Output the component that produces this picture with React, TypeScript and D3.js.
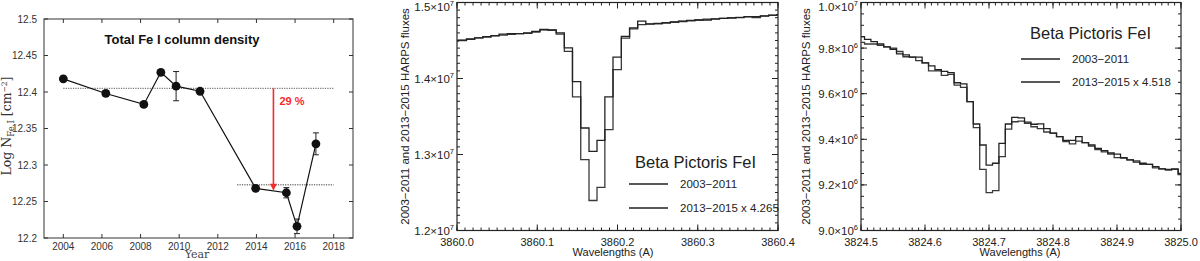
import * as d3 from "d3";

// ---- panel 1: total Fe I column density ----
const YEARS = [2004.0, 2006.2, 2008.17, 2009.05, 2009.84, 2011.08, 2013.96, 2015.55, 2016.1, 2017.08];
const LOG_N = [12.418, 12.398, 12.383, 12.427, 12.408, 12.401, 12.268, 12.262, 12.216, 12.329];
const LOG_N_ERR = [0, 0.004, 0.002, 0, 0.02, 0.003, 0.003, 0.007, 0.01, 0.015];
const YEAR_TICKS = [2004, 2006, 2008, 2010, 2012, 2014, 2016, 2018];
const LOGN_TICKS = [12.2, 12.25, 12.3, 12.35, 12.4, 12.45, 12.5];
const MEAN_LEVELS = [
  { value: 12.405, from: 2004, to: 2018 },
  { value: 12.273, from: 2013, to: 2018 },
];
const DROP_YEAR = 2014.88;
const DROP_LABEL = "29 %";

// ---- panel 2: 3860 A line ----
const WAVE_3860 = [
  3859.9965, 3860.0067, 3860.0169, 3860.0271, 3860.0373, 3860.0474, 3860.0576, 3860.0678,
  3860.0779, 3860.0881, 3860.0983, 3860.1083, 3860.1185, 3860.1287, 3860.1388, 3860.149,
  3860.1594, 3860.1696, 3860.1793, 3860.1892, 3860.1996, 3860.21, 3860.2201, 3860.2302,
  3860.2404, 3860.2506, 3860.2608, 3860.271, 3860.2812, 3860.2914, 3860.3016, 3860.3118,
  3860.322, 3860.3322, 3860.3424, 3860.3526, 3860.3628, 3860.373, 3860.3832, 3860.3934,
  3860.4036,
];
const FLUX_3860_EARLY = [
  1.4495e7, 1.4505e7, 1.452e7, 1.4535e7, 1.455e7, 1.4565e7, 1.4585e7, 1.459e7,
  1.459e7, 1.46e7, 1.462e7, 1.4645e7, 1.464e7, 1.46e7, 1.4403e7, 1.3959e7,
  1.3349e7, 1.3041e7, 1.3186e7, 1.3758e7, 1.428e7, 1.4555e7, 1.4667e7, 1.4754e7,
  1.472e7, 1.4725e7, 1.4735e7, 1.4745e7, 1.4755e7, 1.4765e7, 1.477e7, 1.477e7,
  1.4785e7, 1.479e7, 1.4795e7, 1.48e7, 1.4815e7, 1.4815e7, 1.4825e7, 1.4835e7,
  1.484e7,
];
const FLUX_3860_LATE = [
  1.4495e7, 1.45e7, 1.4515e7, 1.4535e7, 1.4545e7, 1.456e7, 1.457e7, 1.458e7,
  1.459e7, 1.4595e7, 1.461e7, 1.464e7, 1.4635e7, 1.4585e7, 1.4358e7, 1.3758e7,
  1.2932e7, 1.2395e7, 1.2567e7, 1.3327e7, 1.4117e7, 1.453e7, 1.4653e7, 1.471e7,
  1.4715e7, 1.472e7, 1.473e7, 1.474e7, 1.475e7, 1.476e7, 1.477e7, 1.478e7,
  1.478e7, 1.479e7, 1.48e7, 1.4805e7, 1.481e7, 1.48e7, 1.482e7, 1.483e7,
  1.484e7,
];

// ---- panel 3: 3824.7 A line ----
const WAVE_3824 = [
  3824.5005, 3824.5105, 3824.5205, 3824.5305, 3824.5405, 3824.5505, 3824.5605, 3824.5705,
  3824.5805, 3824.5905, 3824.6005, 3824.6105, 3824.6205, 3824.6305, 3824.6405, 3824.6505,
  3824.6605, 3824.6705, 3824.6805, 3824.6905, 3824.7005, 3824.7105, 3824.7205, 3824.7305,
  3824.7405, 3824.7505, 3824.7605, 3824.7705, 3824.7805, 3824.7905, 3824.8005, 3824.8105,
  3824.8205, 3824.8305, 3824.8405, 3824.8505, 3824.8605, 3824.8705, 3824.8805, 3824.8905,
  3824.9005, 3824.9105, 3824.9205, 3824.9305, 3824.9405, 3824.9505, 3824.9605, 3824.9705,
  3824.9805, 3824.9905, 3825.0005,
];
const FLUX_3824_EARLY = [
  9.85e6, 9.838e6, 9.828e6, 9.818e6, 9.805e6, 9.795e6, 9.775e6, 9.77e6,
  9.76e6, 9.76e6, 9.735e6, 9.722e6, 9.705e6, 9.698e6, 9.692e6, 9.648e6,
  9.643e6, 9.565e6, 9.467e6, 9.375e6, 9.287e6, 9.295e6, 9.382e6, 9.467e6,
  9.496e6, 9.494e6, 9.475e6, 9.466e6, 9.468e6, 9.447e6, 9.427e6, 9.412e6,
  9.395e6, 9.395e6, 9.412e6, 9.385e6, 9.375e6, 9.36e6, 9.35e6, 9.34e6,
  9.335e6, 9.32e6, 9.31e6, 9.3e6, 9.295e6, 9.29e6, 9.28e6, 9.27e6,
  9.268e6, 9.27e6, 9.25e6,
];
const FLUX_3824_LATE = [
  9.825e6, 9.818e6, 9.818e6, 9.812e6, 9.805e6, 9.8e6, 9.785e6, 9.762e6,
  9.76e6, 9.745e6, 9.735e6, 9.7e6, 9.7e6, 9.68e6, 9.685e6, 9.638e6,
  9.628e6, 9.565e6, 9.451e6, 9.268e6, 9.166e6, 9.175e6, 9.324e6, 9.445e6,
  9.477e6, 9.48e6, 9.47e6, 9.455e6, 9.447e6, 9.432e6, 9.427e6, 9.412e6,
  9.39e6, 9.38e6, 9.392e6, 9.385e6, 9.37e6, 9.355e6, 9.345e6, 9.335e6,
  9.32e6, 9.318e6, 9.31e6, 9.305e6, 9.29e6, 9.29e6, 9.275e6, 9.27e6,
  9.265e6, 9.268e6, 9.245e6,
];

const SPEC_Y_TITLE = "2003\u22122011 and 2013\u22122015 HARPS fluxes";
const SPEC_X_TITLE = "Wavelengths (A)";
const LEGEND_TITLE = "Beta Pictoris FeI";

const SANS = "'Liberation Sans', Arial, Helvetica, sans-serif";
const SERIF = "'DejaVu Serif', 'Liberation Serif', serif";
const RED = "#f52a2a";

function ColumnDensityPanel() {
  const left = 44, right = 353, top = 19, bottom = 238;
  const x = d3.scaleLinear().domain([2003, 2019]).range([left, right]);
  const y = d3.scaleLinear().domain([12.2, 12.5]).range([bottom, top]);
  const pts = YEARS.map((yr, i) => ({ yr, v: LOG_N[i], e: LOG_N_ERR[i] }));
  const path = d3.line<{ yr: number; v: number }>().x(d => x(d.yr)).y(d => y(d.v))(pts) ?? "";
  const arrowTop = y(MEAN_LEVELS[0].value);
  const arrowBot = y(MEAN_LEVELS[1].value) + 6;
  const ax = x(DROP_YEAR);

  return (
    <g>
      <rect x={left} y={top} width={right - left} height={bottom - top} fill="none" stroke="#333" strokeWidth={1} />
      {YEAR_TICKS.map(t => (
        <g key={t}>
          <line x1={x(t)} x2={x(t)} y1={bottom} y2={bottom - 4} stroke="#333" />
          <line x1={x(t)} x2={x(t)} y1={top} y2={top + 4} stroke="#333" />
          <text x={x(t)} y={250} textAnchor="middle" fontSize={10} fill="#333" fontFamily={SANS}>{t}</text>
        </g>
      ))}
      {LOGN_TICKS.map(t => (
        <g key={t}>
          <line x1={left} x2={left + 4} y1={y(t)} y2={y(t)} stroke="#333" />
          <line x1={right} x2={right - 4} y1={y(t)} y2={y(t)} stroke="#333" />
          <text x={37} y={y(t)} dy="0.35em" textAnchor="end" fontSize={10} fill="#333" fontFamily={SANS}>{t}</text>
        </g>
      ))}
      {MEAN_LEVELS.map((m, i) => (
        <line key={i} x1={x(m.from)} x2={x(m.to)} y1={y(m.value)} y2={y(m.value)}
          stroke="#777" strokeWidth={1.4} strokeDasharray="1.2,1.2" />
      ))}
      <path d={path} fill="none" stroke="#111" strokeWidth={1.2} />
      {pts.filter(p => p.e > 0).map((p, i) => (
        <g key={i} stroke="#222" strokeWidth={1}>
          <line x1={x(p.yr)} x2={x(p.yr)} y1={y(p.v + p.e)} y2={y(p.v - p.e)} />
          <line x1={x(p.yr) - 3} x2={x(p.yr) + 3} y1={y(p.v + p.e)} y2={y(p.v + p.e)} />
          <line x1={x(p.yr) - 3} x2={x(p.yr) + 3} y1={y(p.v - p.e)} y2={y(p.v - p.e)} />
        </g>
      ))}
      {pts.map((p, i) => (
        <circle key={i} cx={x(p.yr)} cy={y(p.v)} r={4.4} fill="#111" />
      ))}
      <line x1={ax} x2={ax} y1={arrowTop} y2={arrowBot - 6} stroke={RED} strokeWidth={1.6} />
      <path d={`M${ax - 3.5},${arrowBot - 7}L${ax + 3.5},${arrowBot - 7}L${ax},${arrowBot}Z`} fill={RED} />
      <text x={ax + 6} y={105} fontSize={11} fontWeight="bold" fill={RED} fontFamily={SANS}>{DROP_LABEL}</text>
      <text x={182} y={44} textAnchor="middle" fontSize={13} fontWeight="bold" fill="#111" fontFamily={SANS}>
        Total Fe I column density
      </text>
      <text x={197} y={258} textAnchor="middle" fontSize={11} fill="#444" fontFamily={SERIF}>Year</text>
      <text transform={`translate(11,126) rotate(-90)`} textAnchor="middle" fontSize={12.5} fill="#333" fontFamily={SERIF}>
        Log N
        <tspan fontSize={8.5} dy={3}>Fe I</tspan>
        <tspan dy={-3}> [cm</tspan>
        <tspan fontSize={7.5} dy={-4}>{"\u22122"}</tspan>
        <tspan dy={4}>]</tspan>
      </text>
    </g>
  );
}

type SpecProps = {
  id: string;
  left: number;
  right: number;
  xDomain: [number, number];
  yDomain: [number, number];
  yMajor: number;
  yMinor: number;
  waves: number[];
  early: number[];
  late: number[];
  legendX: number;
  legendTitleY: number;
  legendLineX: number;
  legendRowY: [number, number];
  scaleLabel: string;
  titleX: number;
  yTitleX: number;
};

function SpectrumPanel(p: SpecProps) {
  const top = 2.5, bottom = 230.5;
  const x = d3.scaleLinear().domain(p.xDomain).range([p.left, p.right]);
  const y = d3.scaleLinear().domain(p.yDomain).range([bottom, top]);
  const eps = 1e-9;
  const xMajor = d3.range(p.xDomain[0], p.xDomain[1] + eps, 0.1);
  const xMinor = d3.range(p.xDomain[0], p.xDomain[1] + eps, 0.01);
  const yMajor = d3.range(p.yDomain[0], p.yDomain[1] + 1, p.yMajor);
  const yMinor = d3.range(p.yDomain[0], p.yDomain[1] + 1, p.yMinor);
  const line = d3.line<number>()
    .x((_, i) => x(p.waves[i]))
    .y(d => y(d))
    .curve(d3.curveStep);

  return (
    <g fontFamily={SANS}>
      <defs>
        <clipPath id={p.id}>
          <rect x={p.left} y={top} width={p.right - p.left} height={bottom - top} />
        </clipPath>
      </defs>
      <g clipPath={`url(#${p.id})`} fill="none" strokeLinejoin="miter">
        <path d={line(p.late) ?? ""} stroke="#3a3a3a" strokeWidth={1.3} />
        <path d={line(p.early) ?? ""} stroke="#222" strokeWidth={1.3} />
      </g>
      <rect x={p.left} y={top} width={p.right - p.left} height={bottom - top} fill="none" stroke="#222" strokeWidth={1.2} />
      <g stroke="#222" strokeWidth={1}>
        {xMinor.map((t, i) => (
          <g key={"xm" + i}>
            <line x1={x(t)} x2={x(t)} y1={bottom} y2={bottom - 3} />
            <line x1={x(t)} x2={x(t)} y1={top} y2={top + 3} />
          </g>
        ))}
        {xMajor.map((t, i) => (
          <g key={"xM" + i}>
            <line x1={x(t)} x2={x(t)} y1={bottom} y2={bottom - 6} />
            <line x1={x(t)} x2={x(t)} y1={top} y2={top + 6} />
          </g>
        ))}
        {yMinor.map((t, i) => (
          <g key={"ym" + i}>
            <line x1={p.left} x2={p.left + 3} y1={y(t)} y2={y(t)} />
            <line x1={p.right} x2={p.right - 3} y1={y(t)} y2={y(t)} />
          </g>
        ))}
        {yMajor.map((t, i) => (
          <g key={"yM" + i}>
            <line x1={p.left} x2={p.left + 6} y1={y(t)} y2={y(t)} />
            <line x1={p.right} x2={p.right - 6} y1={y(t)} y2={y(t)} />
          </g>
        ))}
      </g>
      {xMajor.map((t, i) => (
        <text key={"xl" + i} x={x(t)} y={246} textAnchor="middle" fontSize={11} fill="#222">{t.toFixed(1)}</text>
      ))}
      {yMajor.map((t, i) => {
        const exp = Math.floor(Math.log10(t) + 1e-9);
        const mant = t / Math.pow(10, exp);
        return (
          <text key={"yl" + i} x={p.left - 3} y={Math.max(y(t) + 4.5, 11)} textAnchor="end" fontSize={11.5} fill="#222">
            {mant.toFixed(1)}{"\u00d710"}
            <tspan fontSize={7.5} dy={-5}>{exp}</tspan>
          </text>
        );
      })}
      <text transform={`translate(${p.yTitleX},${(top + bottom) / 2}) rotate(-90)`} textAnchor="middle" fontSize={11.5} fill="#222">
        {SPEC_Y_TITLE}
      </text>
      <text x={p.titleX} y={256} textAnchor="middle" fontSize={11} fill="#222">{SPEC_X_TITLE}</text>
      <text x={p.legendX} y={p.legendTitleY} fontSize={16.5} fill="#222">{LEGEND_TITLE}</text>
      {p.legendRowY.map((ly, i) => (
        <g key={"lg" + i}>
          <line x1={p.legendLineX} x2={p.legendLineX + 39} y1={ly} y2={ly} stroke="#222" strokeWidth={1.3} />
          <text x={p.legendLineX + 51} y={ly + 4} fontSize={11.5} fill="#222">
            {i === 0 ? "2003\u22122011" : `2013\u22122015 x ${p.scaleLabel}`}
          </text>
        </g>
      ))}
    </g>
  );
}

export default function App() {
  return (
    <svg width={1200} height={261} viewBox="0 0 1200 261"
      style={{ position: "absolute", left: 0, top: 0, background: "#fff" }}>
      <rect width={1200} height={261} fill="#fff" />
      <ColumnDensityPanel />
      <SpectrumPanel
        id="clip-3860" left={457} right={778}
        xDomain={[3860.0, 3860.4]} yDomain={[1.2e7, 1.5e7]} yMajor={1e6} yMinor={1e5}
        waves={WAVE_3860} early={FLUX_3860_EARLY} late={FLUX_3860_LATE}
        legendX={635} legendTitleY={168} legendLineX={629} legendRowY={[184, 208]}
        scaleLabel="4.265" titleX={613} yTitleX={409}
      />
      <SpectrumPanel
        id="clip-3824" left={861} right={1181}
        xDomain={[3824.5, 3825.0]} yDomain={[9.0e6, 1.0e7]} yMajor={2e5} yMinor={5e4}
        waves={WAVE_3824} early={FLUX_3824_EARLY} late={FLUX_3824_LATE}
        legendX={1030} legendTitleY={39} legendLineX={1021} legendRowY={[59, 82]}
        scaleLabel="4.518" titleX={1020} yTitleX={810}
      />
    </svg>
  );
}
